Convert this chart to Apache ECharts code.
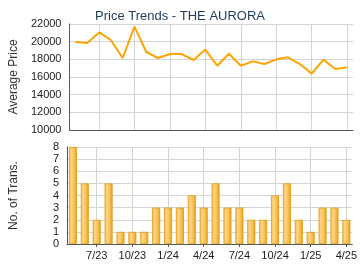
<!DOCTYPE html>
<html><head><meta charset="utf-8">
<script src="https://cdn.jsdelivr.net/npm/echarts@6/dist/echarts.min.js"></script>
<style>html,body{margin:0;padding:0;background:#fff}#c{width:360px;height:270px}</style>
</head><body><div id="c"></div>
<script>
var months = ['5/23','6/23','7/23','8/23','9/23','10/23','11/23','12/23','1/24','2/24','3/24','4/24','5/24','6/24','7/24','8/24','9/24','10/24','11/24','12/24','1/25','2/25','3/25','4/25'];
var avgPrice = [19950,19850,21050,20190,18150,21700,18830,18150,18600,18600,17925,19100,17280,18640,17280,17770,17470,18000,18230,17470,16380,17960,16900,17090];
var transactions = [8,5,2,5,1,1,1,3,3,3,4,3,5,3,3,2,2,4,5,2,1,3,3,2];
var labelMonths = ['7/23','10/23','1/24','4/24','7/24','10/24','1/25','4/25'];

var ff = '"Liberation Sans", Arial, sans-serif';
var gridColor = '#d4d4d4';
var axisColor = '#555';
function showIdx(i){ return labelMonths.indexOf(months[i]) >= 0; }

var chart = echarts.init(document.getElementById('c'), null, {renderer:'canvas'});
chart.setOption({
  animation:false,
  title:{text:'Price Trends - THE AURORA', left:'center', top:5, textStyle:{fontFamily:ff, fontSize:13, fontWeight:'normal', color:'#1e3a5f'}},
  grid:[{left:65, right:7, top:24, height:106},{left:65, right:7, top:147, height:97}],
  xAxis:[
    {type:'category', gridIndex:0, data:months, boundaryGap:true,
     axisLine:{lineStyle:{color:axisColor, width:1}}, axisTick:{show:false}, axisLabel:{show:false},
     splitLine:{show:true, alignWithLabel:true, interval:function(i){return showIdx(i);}, lineStyle:{color:gridColor}}},
    {type:'category', gridIndex:1, data:months, boundaryGap:true,
     axisLine:{lineStyle:{color:axisColor, width:1}},
     axisTick:{show:true, alignWithLabel:true, length:3, interval:function(i){return showIdx(i);}, lineStyle:{color:axisColor}},
     axisLabel:{interval:function(i){return showIdx(i);}, fontFamily:ff, fontSize:11, color:'#222', margin:6},
     splitLine:{show:true, alignWithLabel:true, interval:function(i){return showIdx(i);}, lineStyle:{color:gridColor}}}
  ],
  yAxis:[
    {type:'value', gridIndex:0, min:10000, max:22000, interval:2000,
     name:'Average Price', nameLocation:'middle', nameGap:47, nameTextStyle:{fontFamily:ff, fontSize:12, color:'#333'},
     axisLine:{show:true, lineStyle:{color:axisColor}}, axisTick:{show:false},
     axisLabel:{fontFamily:ff, fontSize:11, color:'#222', margin:8, formatter:function(v){return String(v);}},
     splitLine:{lineStyle:{color:gridColor}}},
    {type:'value', gridIndex:1, min:0, max:8, interval:1,
     name:'No. of Trans.', nameLocation:'middle', nameGap:47, nameTextStyle:{fontFamily:ff, fontSize:12, color:'#333'},
     axisLine:{show:true, lineStyle:{color:axisColor}}, axisTick:{show:false},
     axisLabel:{fontFamily:ff, fontSize:11, color:'#222', margin:8},
     splitLine:{lineStyle:{color:gridColor}}}
  ],
  series:[
    {type:'line', xAxisIndex:0, yAxisIndex:0, data:avgPrice, showSymbol:false, symbol:'none',
     lineStyle:{color:'#ffa500', width:2}, itemStyle:{color:'#ffa500'}},
    {type:'bar', xAxisIndex:1, yAxisIndex:1, data:transactions, barWidth:8,
     itemStyle:{borderColor:'#e49a12', borderWidth:0.8,
       color:new echarts.graphic.LinearGradient(0,0,1,0,[
         {offset:0,color:'#f4b540'},{offset:0.3,color:'#fdd68a'},{offset:0.7,color:'#f7bd4c'},{offset:1,color:'#e39710'}])}}
  ]
});
</script></body></html>
